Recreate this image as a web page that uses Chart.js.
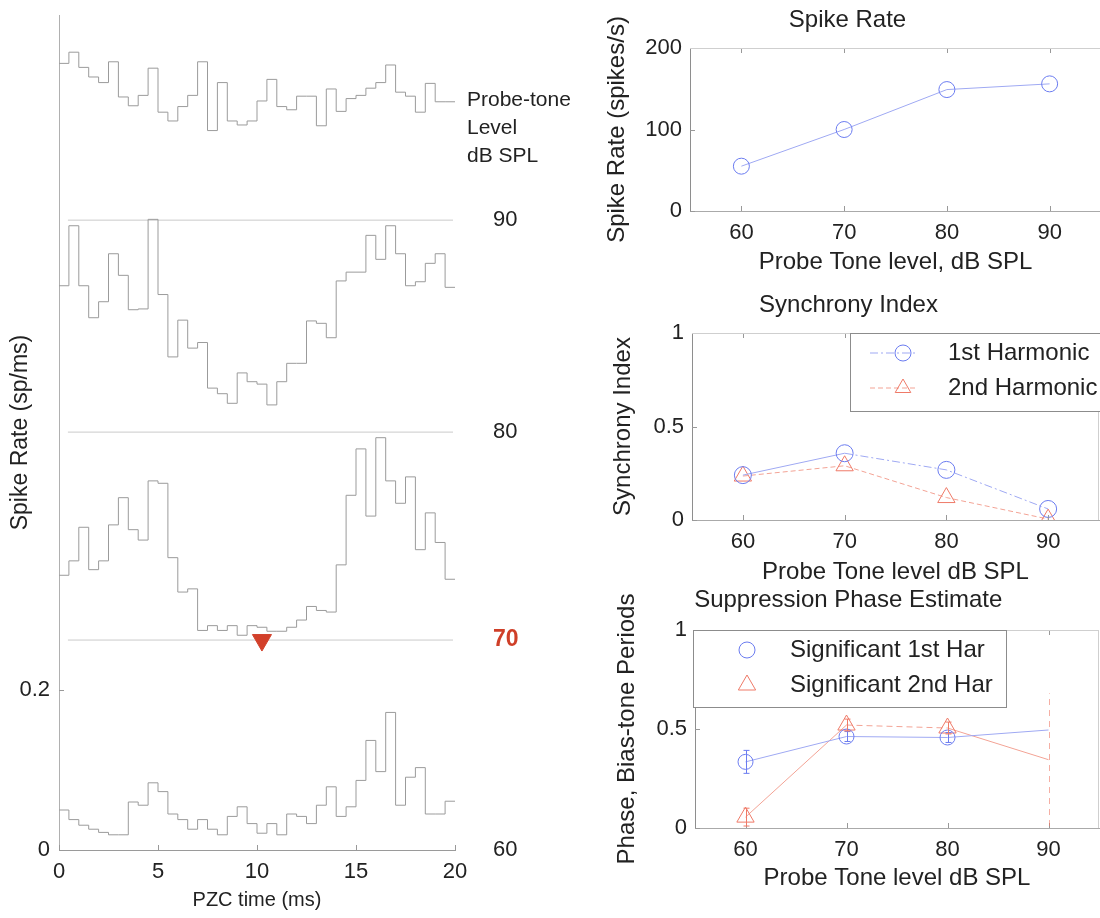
<!DOCTYPE html>
<html>
<head>
<meta charset="utf-8">
<script src="https://cdn.jsdelivr.net/npm/chart.js@4.4.1/dist/chart.umd.min.js"></script>
<style>
  html, body { margin: 0; padding: 0; background: #fff; width: 1100px; height: 918px; overflow: hidden; position: relative; }
  canvas { position: absolute; }
</style>
</head>
<body>
<canvas id="psth" width="600" height="918" style="left:0;top:0;width:600px;height:918px"></canvas>
<canvas id="rate" width="520" height="285" style="left:590px;top:0;width:520px;height:285px"></canvas>
<canvas id="sync" width="520" height="312" style="left:590px;top:280px;width:520px;height:312px"></canvas>
<canvas id="phase" width="520" height="348" style="left:590px;top:570px;width:520px;height:348px"></canvas>
<script>
// ---- data -------------------------------------------------------------
const binWidth = 0.5;                 // PSTH bin width, ms
const levels = [60, 70, 80, 90];      // probe-tone level, dB SPL
const markedLevel = 70;
const markerTime = 10.25;             // ms, suppression marker on the 70 dB trace

// PSTH spike rates (sp/ms), 40 bins over 0-20 ms
const psth60 = [0.050, 0.038, 0.031, 0.026, 0.022, 0.019, 0.019, 0.060, 0.056, 0.084,
                0.073, 0.045, 0.038, 0.026, 0.038, 0.026, 0.019, 0.042, 0.054, 0.033,
                0.021, 0.033, 0.019, 0.045, 0.042, 0.033, 0.056, 0.079, 0.042, 0.054,
                0.087, 0.137, 0.098, 0.172, 0.056, 0.091, 0.103, 0.045, 0.045, 0.061];
const psth70 = [0.081, 0.099, 0.141, 0.088, 0.099, 0.144, 0.178, 0.138, 0.125, 0.199,
                0.196, 0.103, 0.060, 0.064, 0.012, 0.018, 0.012, 0.018, 0.006, 0.018,
                0.016, 0.011, 0.011, 0.016, 0.025, 0.042, 0.037, 0.035, 0.094, 0.181,
                0.239, 0.155, 0.253, 0.199, 0.171, 0.204, 0.113, 0.159, 0.122, 0.076];
const psth80 = [0.183, 0.258, 0.183, 0.143, 0.163, 0.223, 0.196, 0.153, 0.154, 0.266,
                0.172, 0.094, 0.140, 0.105, 0.112, 0.055, 0.048, 0.036, 0.074, 0.063,
                0.060, 0.034, 0.063, 0.086, 0.086, 0.139, 0.136, 0.118, 0.189, 0.200,
                0.200, 0.246, 0.216, 0.258, 0.223, 0.183, 0.188, 0.211, 0.223, 0.181];
const psth90 = [0.196, 0.210, 0.191, 0.179, 0.172, 0.198, 0.154, 0.143, 0.156, 0.190,
                0.135, 0.124, 0.142, 0.156, 0.198, 0.112, 0.172, 0.124, 0.119, 0.124,
                0.149, 0.176, 0.142, 0.138, 0.155, 0.155, 0.118, 0.164, 0.136, 0.152,
                0.156, 0.165, 0.172, 0.194, 0.160, 0.155, 0.135, 0.171, 0.148, 0.148];
const stackOffsets = [0, 0.2625, 0.5225, 0.7875];   // vertical shift of each trace, sp/ms
const psthXTicks = [0, 5, 10, 15, 20];
const psthYTicks = [0, 0.2];

// summary measures vs. probe level
const spikeRate = [55, 100, 149, 156];             // spikes/s
const sync1st = [0.24, 0.357, 0.268, 0.059];
const sync2nd = [0.235, 0.29, 0.12, 0.005];
const phase1st = [0.334, 0.462, 0.457, 0.495];
const phase1stErr = [0.058, 0.025, 0.025, 0];
const phase1stSig = [true, true, true, false];
const phase2nd = [0.055, 0.52, 0.505, 0.345];
const phase2ndErr = [0.045, 0.03, 0.03, 0.335];
const phase2ndSig = [true, true, true, false];
const rateTicks = [0, 100, 200];
const unitTicks = [0, 0.5, 1];

// ---- styling ----------------------------------------------------------
const FONT = "'Liberation Sans', Arial, Helvetica, sans-serif";
Chart.defaults.font.family = FONT;
Chart.defaults.color = '#222';
const BLUE = '#6b7cf0', BLUE_LINE = '#9fa9f3';
const RED = '#ef7a68', RED_LINE = '#f3a395';

function drawMarker(ctx, style, cx, cy, r, color) {
  ctx.save();
  ctx.strokeStyle = color;
  ctx.lineWidth = 1;
  ctx.setLineDash([]);
  ctx.beginPath();
  if (style === 'triangle') {
    ctx.moveTo(cx, cy - r);
    ctx.lineTo(cx + r * 0.866, cy + r * 0.5);
    ctx.lineTo(cx - r * 0.866, cy + r * 0.5);
    ctx.closePath();
  } else {
    ctx.arc(cx, cy, r, 0, Math.PI * 2);
  }
  ctx.stroke();
  ctx.restore();
}

// MATLAB-style inward tick marks and light top/right frame
const inwardTicks = {
  id: 'inwardTicks',
  afterDatasetsDraw(chart, args, o) {
    const { ctx, chartArea: a, scales: { x, y } } = chart;
    const len = o.length || 5;
    ctx.save();
    ctx.strokeStyle = o.color || '#999';
    ctx.lineWidth = 1;
    ctx.beginPath();
    x.ticks.forEach(t => {
      const px = Math.round(x.getPixelForValue(t.value)) + 0.5;
      ctx.moveTo(px, a.bottom); ctx.lineTo(px, a.bottom - len);
      if (o.top) { ctx.moveTo(px, a.top); ctx.lineTo(px, a.top + len); }
    });
    y.ticks.forEach(t => {
      const py = Math.round(y.getPixelForValue(t.value)) + 0.5;
      ctx.moveTo(a.left, py); ctx.lineTo(a.left + len, py);
    });
    ctx.stroke();
    if (o.frame) {
      ctx.strokeStyle = o.frame;
      ctx.beginPath();
      ctx.moveTo(a.left, Math.round(a.top) + 0.5); ctx.lineTo(a.right, Math.round(a.top) + 0.5);
      ctx.moveTo(Math.round(a.right) - 0.5, a.top); ctx.lineTo(Math.round(a.right) - 0.5, a.bottom);
      ctx.stroke();
    }
    ctx.restore();
  }
};

// boxed legend placed inside the axes
const boxLegend = {
  id: 'boxLegend',
  afterDraw(chart, args, o) {
    if (!o || !o.rect) return;
    const ctx = chart.ctx;
    const [bx, by, bw, bh] = o.rect;
    ctx.save();
    ctx.fillStyle = '#fff';
    ctx.fillRect(bx, by, bw, bh);
    ctx.strokeStyle = '#8c8c8c';
    ctx.lineWidth = 1;
    ctx.strokeRect(bx + 0.5, by + 0.5, bw, bh);
    ctx.font = o.fontSize + 'px ' + FONT;
    ctx.textBaseline = 'middle';
    ctx.textAlign = 'left';
    chart.data.datasets.forEach((ds, i) => {
      const cy = by + o.firstRow + i * o.rowGap;
      if (o.sample) {
        ctx.save();
        ctx.strokeStyle = ds.borderColor;
        ctx.setLineDash(ds.borderDash || []);
        ctx.beginPath();
        ctx.moveTo(o.sample[0], cy); ctx.lineTo(o.sample[1], cy);
        ctx.stroke();
        ctx.restore();
      }
      drawMarker(ctx, ds.pointStyle, o.markerX, cy, o.markerR[i], ds.pointBorderColor);
      ctx.fillStyle = '#222';
      ctx.fillText(ds.label, o.textX, cy);
    });
    ctx.restore();
  }
};

// error bars for the phase estimates
const errorBars = {
  id: 'errorBars',
  afterDatasetsDraw(chart, args, o) {
    const { ctx, scales: { y } } = chart;
    ctx.save();
    ctx.lineWidth = 1;
    o.sets.forEach((set, di) => {
      const meta = chart.getDatasetMeta(di);
      const ds = chart.data.datasets[di];
      set.err.forEach((e, i) => {
        if (!e) return;
        const v = ds.data[i].y;
        const px = Math.round(meta.data[i].x) + 0.5;
        const y0 = y.getPixelForValue(v - e), y1 = y.getPixelForValue(v + e);
        ctx.strokeStyle = set.color;
        ctx.setLineDash(set.sig[i] ? [] : [6, 5]);
        ctx.globalAlpha = set.sig[i] ? 1 : 0.6;
        ctx.beginPath();
        ctx.moveTo(px, y0); ctx.lineTo(px, y1);
        if (set.sig[i]) {
          ctx.moveTo(px - 3, y0); ctx.lineTo(px + 3, y0);
          ctx.moveTo(px - 3, y1); ctx.lineTo(px + 3, y1);
        }
        ctx.stroke();
      });
    });
    ctx.restore();
  }
};

// level labels and header to the right of the stacked PSTHs
const stackLabels = {
  id: 'stackLabels',
  afterDraw(chart, args, o) {
    const { ctx, chartArea: a, scales: { y } } = chart;
    ctx.save();
    ctx.textBaseline = 'middle';
    ctx.textAlign = 'left';
    levels.forEach((lv, k) => {
      const py = y.getPixelForValue(stackOffsets[k]);
      if (lv === markedLevel) {
        ctx.font = 'bold 23px ' + FONT;
        ctx.fillStyle = '#cf3f28';
      } else {
        ctx.font = '22px ' + FONT;
        ctx.fillStyle = '#222';
      }
      ctx.fillText(String(lv), a.right + o.labelGap, py);
    });
    ctx.font = '21px ' + FONT;
    ctx.fillStyle = '#222';
    o.header.forEach((line, i) => ctx.fillText(line, a.right + o.headerGap, o.headerTop + i * o.headerStep));
    ctx.restore();
  }
};

function fixedTicks(values) {
  return s => { s.ticks = values.map(v => ({ value: v })); };
}
// pin a scale's thickness and drop the label overhang padding
function fixWidth(w) {
  return s => { s.width = w; s.paddingTop = 0; s.paddingBottom = 0; };
}
function fixHeight(h) {
  return s => { s.height = h; s.paddingLeft = 0; s.paddingRight = 0; };
}

// ---- stacked PSTH panel ----------------------------------------------
function stepPoints(values, offset) {
  const pts = values.map((v, i) => ({ x: i * binWidth, y: v + offset }));
  pts.push({ x: values.length * binWidth, y: values[values.length - 1] + offset });
  return pts;
}
const traces = [psth60, psth70, psth80, psth90];
const psthDatasets = [];
psthDatasets.push({
  data: [{ x: markerTime, y: stackOffsets[levels.indexOf(markedLevel)] }],
  showLine: false, pointStyle: 'triangle', rotation: 180, pointRadius: 11,
  pointBackgroundColor: '#d2402a', pointBorderColor: '#d2402a', pointBorderWidth: 1
});
traces.forEach((arr, k) => psthDatasets.push({
  data: stepPoints(arr, stackOffsets[k]), stepped: true,
  borderColor: '#9b9b9b', borderWidth: 1, pointRadius: 0
}));
stackOffsets.slice(1).forEach(off => psthDatasets.push({
  data: [{ x: 0.45, y: off }, { x: 19.9, y: off }],
  borderColor: '#cacaca', borderWidth: 1, pointRadius: 0
}));

new Chart(document.getElementById('psth'), {
  type: 'line',
  data: { datasets: psthDatasets },
  plugins: [inwardTicks, stackLabels],
  options: {
    responsive: false, animation: false, devicePixelRatio: 1,
    layout: { padding: { left: 0, right: 145, top: 15, bottom: 0 } },
    plugins: {
      legend: { display: false }, tooltip: { enabled: false },
      inwardTicks: { length: 5, color: '#999' },
      stackLabels: { labelGap: 38, headerGap: 12, headerTop: 100, headerStep: 28,
                     header: ['Probe-tone', 'Level', 'dB SPL'] }
    },
    scales: {
      x: {
        type: 'linear', min: 0, max: 20,
        afterBuildTicks: fixedTicks(psthXTicks),
        afterFit: fixHeight(68),
        grid: { display: false, drawTicks: false },
        border: { display: true, color: '#9a9a9a' },
        ticks: { font: { size: 22 }, padding: 9, maxRotation: 0 },
        title: { display: true, text: 'PZC time (ms)', font: { size: 20 }, padding: { top: 0, bottom: 6 } }
      },
      y: {
        type: 'linear', min: 0, max: 1.044,
        afterBuildTicks: fixedTicks(psthYTicks),
        afterFit: fixWidth(59),
        grid: { display: false, drawTicks: false },
        border: { display: true, color: '#b0b0b0' },
        ticks: { font: { size: 22 }, padding: 9, callback: v => String(v) },
        title: { display: true, text: 'Spike Rate (sp/ms)', font: { size: 23 }, padding: { top: 7, bottom: 0 } }
      }
    }
  }
});

// ---- right-hand summary panels -----------------------------------------
function levelPoints(arr) { return levels.map((lv, i) => ({ x: lv, y: arr[i] })); }

function panelOptions(p) {
  return {
    responsive: false, animation: false, devicePixelRatio: 1,
    layout: { padding: { left: 0, right: p.padRight, top: 0, bottom: 0 } },
    plugins: {
      legend: { display: false }, tooltip: { enabled: false },
      title: { display: true, text: p.title, color: '#222', font: { size: 24, weight: 'normal' },
               padding: { top: p.titleTop, bottom: p.titleBottom } },
      inwardTicks: { length: 5, color: '#999', top: true, frame: '#cfcfcf' },
      boxLegend: p.legend || {},
      errorBars: p.errorBars || { sets: [] }
    },
    scales: {
      x: {
        type: 'linear', min: 55, max: 95,
        afterBuildTicks: fixedTicks(levels),
        afterFit: fixHeight(p.xHeight),
        grid: { display: false, drawTicks: false },
        border: { display: true, color: '#aaaaaa' },
        ticks: { font: { size: 22 }, padding: 9, maxRotation: 0 },
        title: { display: true, text: p.xTitle, font: { size: 24 }, padding: { top: 0, bottom: p.xTitlePad } }
      },
      y: {
        type: 'linear', min: 0, max: p.yMax,
        afterBuildTicks: fixedTicks(p.yTicks),
        afterFit: fixWidth(p.yWidth),
        grid: { display: false, drawTicks: false },
        border: { display: true, color: '#8e8e8e' },
        ticks: { font: { size: 22 }, padding: 8, callback: v => String(v) },
        title: { display: true, text: p.yTitle, font: { size: 24 }, padding: { top: p.yTitlePad, bottom: 0 } }
      }
    }
  };
}

new Chart(document.getElementById('rate'), {
  type: 'line',
  data: { datasets: [{
    label: 'Spike Rate', data: levelPoints(spikeRate),
    borderColor: BLUE_LINE, borderWidth: 1,
    pointStyle: 'circle', pointRadius: 8, pointBorderColor: BLUE, pointBackgroundColor: 'rgba(0,0,0,0)', pointBorderWidth: 1
  }] },
  plugins: [inwardTicks],
  options: panelOptions({
    title: 'Spike Rate', titleTop: 5.6, titleBottom: 13.6, padRight: 5,
    xTitle: 'Probe Tone level, dB SPL', xHeight: 74, xTitlePad: 8.6,
    yTitle: 'Spike Rate (spikes/s)', yWidth: 100, yTitlePad: 12.6, yMax: 200, yTicks: rateTicks
  })
});

new Chart(document.getElementById('sync'), {
  type: 'line',
  data: { datasets: [
    { label: '1st Harmonic', data: levelPoints(sync1st),
      borderColor: BLUE_LINE, borderWidth: 1, borderDash: [8, 3, 2, 3],
      segment: { borderDash: c => c.p0DataIndex === 0 ? [] : [8, 3, 2, 3] },
      pointStyle: 'circle', pointRadius: 8.5, pointBorderColor: BLUE, pointBackgroundColor: 'rgba(0,0,0,0)', pointBorderWidth: 1 },
    { label: '2nd Harmonic', data: levelPoints(sync2nd),
      borderColor: RED_LINE, borderWidth: 1, borderDash: [5, 3],
      pointStyle: 'triangle', pointRadius: 10, pointBorderColor: RED, pointBackgroundColor: 'rgba(0,0,0,0)', pointBorderWidth: 1 }
  ] },
  plugins: [inwardTicks, boxLegend],
  options: panelOptions({
    title: 'Synchrony Index', titleTop: 10.6, titleBottom: 13.6, padRight: 3,
    xTitle: 'Probe Tone level dB SPL', xHeight: 72, xTitlePad: 5.6,
    yTitle: 'Synchrony Index', yWidth: 102, yTitlePad: 18.6, yMax: 1, yTicks: unitTicks,
    legend: { rect: [260, 53, 262, 78], firstRow: 20, rowGap: 35, fontSize: 24,
              markerX: 313, markerR: [8, 9], textX: 358, sample: [280, 328] }
  })
});

new Chart(document.getElementById('phase'), {
  type: 'line',
  data: { datasets: [
    { label: 'Significant 1st Har', data: levelPoints(phase1st),
      borderColor: BLUE_LINE, borderWidth: 1,
      pointStyle: 'circle', pointRadius: phase1stSig.map(s => s ? 7.5 : 0),
      pointBorderColor: BLUE, pointBackgroundColor: 'rgba(0,0,0,0)', pointBorderWidth: 1 },
    { label: 'Significant 2nd Har', data: levelPoints(phase2nd),
      borderColor: RED_LINE, borderWidth: 1,
      segment: { borderDash: c => c.p0DataIndex === 1 ? [6, 4] : [] },
      pointStyle: 'triangle', pointRadius: phase2ndSig.map(s => s ? 10 : 0),
      pointBorderColor: RED, pointBackgroundColor: 'rgba(0,0,0,0)', pointBorderWidth: 1 }
  ] },
  plugins: [inwardTicks, errorBars, boxLegend],
  options: panelOptions({
    title: 'Suppression Phase Estimate', titleTop: 15.6, titleBottom: 15.6, padRight: 3.5,
    xTitle: 'Probe Tone level dB SPL', xHeight: 90, xTitlePad: 25.6,
    yTitle: 'Phase, Bias-tone Periods', yWidth: 105, yTitlePad: 22.6, yMax: 1, yTicks: unitTicks,
    legend: { rect: [103, 60, 313, 77], firstRow: 20, rowGap: 35, fontSize: 24,
              markerX: 157, markerR: [8, 10], textX: 200 },
    errorBars: { sets: [
      { err: phase1stErr, sig: phase1stSig, color: BLUE },
      { err: phase2ndErr, sig: phase2ndSig, color: RED }
    ] }
  })
});
</script>
</body>
</html>
